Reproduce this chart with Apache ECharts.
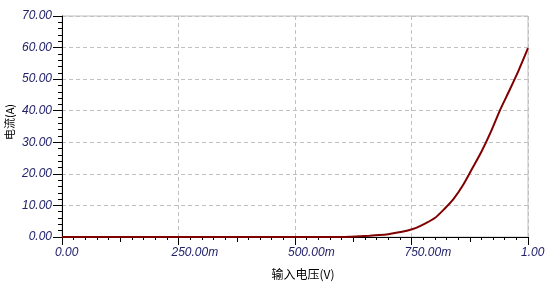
<!DOCTYPE html>
<html>
<head>
<meta charset="utf-8">
<script src="https://cdn.jsdelivr.net/npm/echarts@6/dist/echarts.min.js"></script>
<style>html,body{margin:0;padding:0;background:#fff}#c{width:546px;height:291px}</style>
</head>
<body>
<div id="c"></div>
<script>
const voltage = [0, 0.1, 0.2, 0.3, 0.4, 0.5, 0.6, 0.62, 0.64, 0.66, 0.68, 0.7, 0.72, 0.74, 0.76, 0.78, 0.8, 0.82, 0.84, 0.86, 0.88, 0.9, 0.92, 0.94, 0.96, 0.98, 1.0];
const current = [0, 0, 0, 0, 0, 0, 0, 0.1, 0.25, 0.4, 0.6, 0.9, 1.4, 2.0, 2.9, 4.3, 6.0, 8.8, 12.0, 16.3, 21.6, 27.0, 33.2, 40.2, 46.4, 52.8, 59.8];
const xTicks = ['0.00', '250.00m', '500.00m', '750.00m', '1.00'];
const yTicks = ['0.00', '10.00', '20.00', '30.00', '40.00', '50.00', '60.00', '70.00'];
const xName = '输入电压(V)';
const yName = '电流(A)';

const chart = echarts.init(document.getElementById('c'), null, {renderer: 'canvas'});
const labelColor = '#22226a';
const fontFam = 'Liberation Sans, Arial, sans-serif';
chart.setOption({
  animation: false,
  grid: {left: 62, right: 18, top: 16, bottom: 54, show: true, borderColor: '#c0c0c0', borderWidth: 1, containLabel: false, outerBoundsMode: 'none'},
  xAxis: [{
    type: 'value', min: 0, max: 1, interval: 0.25,
    name: xName, nameLocation: 'middle', nameGap: 31, nameMoveOverlap: false,
    nameTextStyle: {color: '#000', fontSize: 12, fontFamily: 'Noto Sans CJK SC, sans-serif', padding: [0, 0, 0, 16]},
    axisLine: {show: true, lineStyle: {color: '#000', width: 1}},
    axisTick: {show: true, length: 8, lineStyle: {color: '#000'}},
    minorTick: {show: true, splitNumber: 10, length: 3, lineStyle: {color: '#000'}},
    axisLabel: {
      color: labelColor, fontSize: 12, fontStyle: 'italic', fontFamily: fontFam, margin: 10,
      align: 'left', padding: [0, 0, 0, -7],
      formatter: (v) => { const i = Math.round(v / 0.25); return xTicks[i] || ''; }
    },
    splitLine: {show: true, lineStyle: {color: '#c0c0c0', type: [4, 3]}}
  }, {
    type: 'value', min: 0, max: 1, interval: 0.125, position: 'bottom', gridIndex: 0,
    axisLine: {show: false}, axisLabel: {show: false}, splitLine: {show: false},
    axisTick: {show: true, length: 5, lineStyle: {color: '#000'}}
  }],
  yAxis: {
    type: 'value', min: 0, max: 70, interval: 10,
    name: yName, nameLocation: 'middle', nameGap: 52, nameRotate: 90, nameMoveOverlap: false,
    nameTextStyle: {color: '#000', fontSize: 11, fontFamily: 'Noto Sans CJK SC, sans-serif', align: 'center', verticalAlign: 'middle', padding: [0, 0, 0, 9]},
    axisLine: {show: true, lineStyle: {color: '#000', width: 1}},
    axisTick: {show: true, length: 9, lineStyle: {color: '#000'}},
    minorTick: {show: true, splitNumber: 5, length: 4, lineStyle: {color: '#000'}},
    axisLabel: {
      color: labelColor, fontSize: 12, fontStyle: 'italic', fontFamily: fontFam, margin: 10,
      formatter: (v) => yTicks[Math.round(v / 10)] || ''
    },
    splitLine: {show: true, lineStyle: {color: '#c0c0c0', type: [4, 3]}}
  },
  series: [{
    type: 'line', xAxisIndex: 0, showSymbol: false, symbol: 'none', smooth: 0.25,
    lineStyle: {color: '#800000', width: 2},
    data: voltage.map((v, i) => [v, current[i]])
  }]
});
</script>
</body>
</html>
